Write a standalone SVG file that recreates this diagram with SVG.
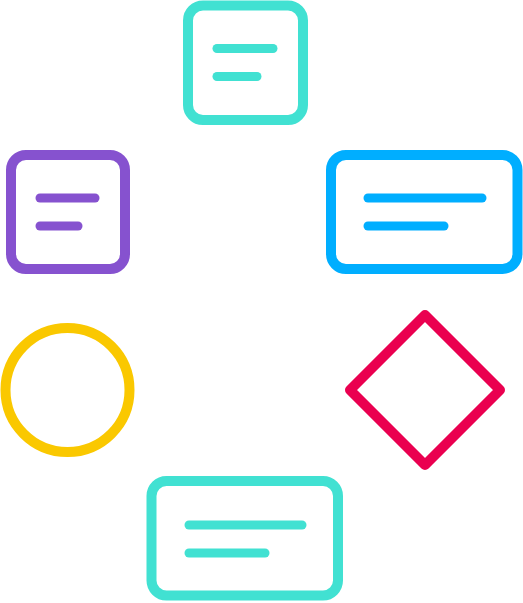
<svg xmlns="http://www.w3.org/2000/svg" width="523" height="603" viewBox="0 0 523 603">
<style>
.s{fill:none;stroke-width:10;stroke-linecap:round;stroke-linejoin:round}
.l{fill:none;stroke-width:9;stroke-linecap:round}
.teal{stroke:#41E1D2}
.purple{stroke:#8652CF}
.blue{stroke:#00AEFF}
.yellow{stroke:#FAC800}
.red{stroke:#EA0050}
</style>
<rect width="523" height="603" fill="#FFFFFF"/>
<g id="top-note">
<rect class="s teal" x="188" y="5.5" width="115" height="114.5" rx="15"/>
<line class="l teal" x1="217" y1="48.5" x2="273" y2="48.5"/>
<line class="l teal" x1="217" y1="76.5" x2="257" y2="76.5"/>
</g>
<g id="left-note">
<rect class="s purple" x="11" y="155" width="114" height="114" rx="15"/>
<line class="l purple" x1="40" y1="198" x2="95" y2="198"/>
<line class="l purple" x1="40" y1="226" x2="78" y2="226"/>
</g>
<g id="right-note">
<rect class="s blue" x="331" y="155" width="186.5" height="114" rx="15"/>
<line class="l blue" x1="368" y1="198" x2="482" y2="198"/>
<line class="l blue" x1="368" y1="226" x2="444" y2="226"/>
</g>
<g id="circle">
<circle class="s yellow" cx="67.5" cy="390" r="62"/>
</g>
<g id="diamond">
<polygon class="s red" points="425,315 500,390 425,465 350,390"/>
</g>
<g id="bottom-note">
<rect class="s teal" x="151.5" y="481" width="186.5" height="114.5" rx="15"/>
<line class="l teal" x1="189" y1="525" x2="302" y2="525"/>
<line class="l teal" x1="189" y1="553" x2="265" y2="553"/>
</g>
<g id="connectors"></g>
</svg>
